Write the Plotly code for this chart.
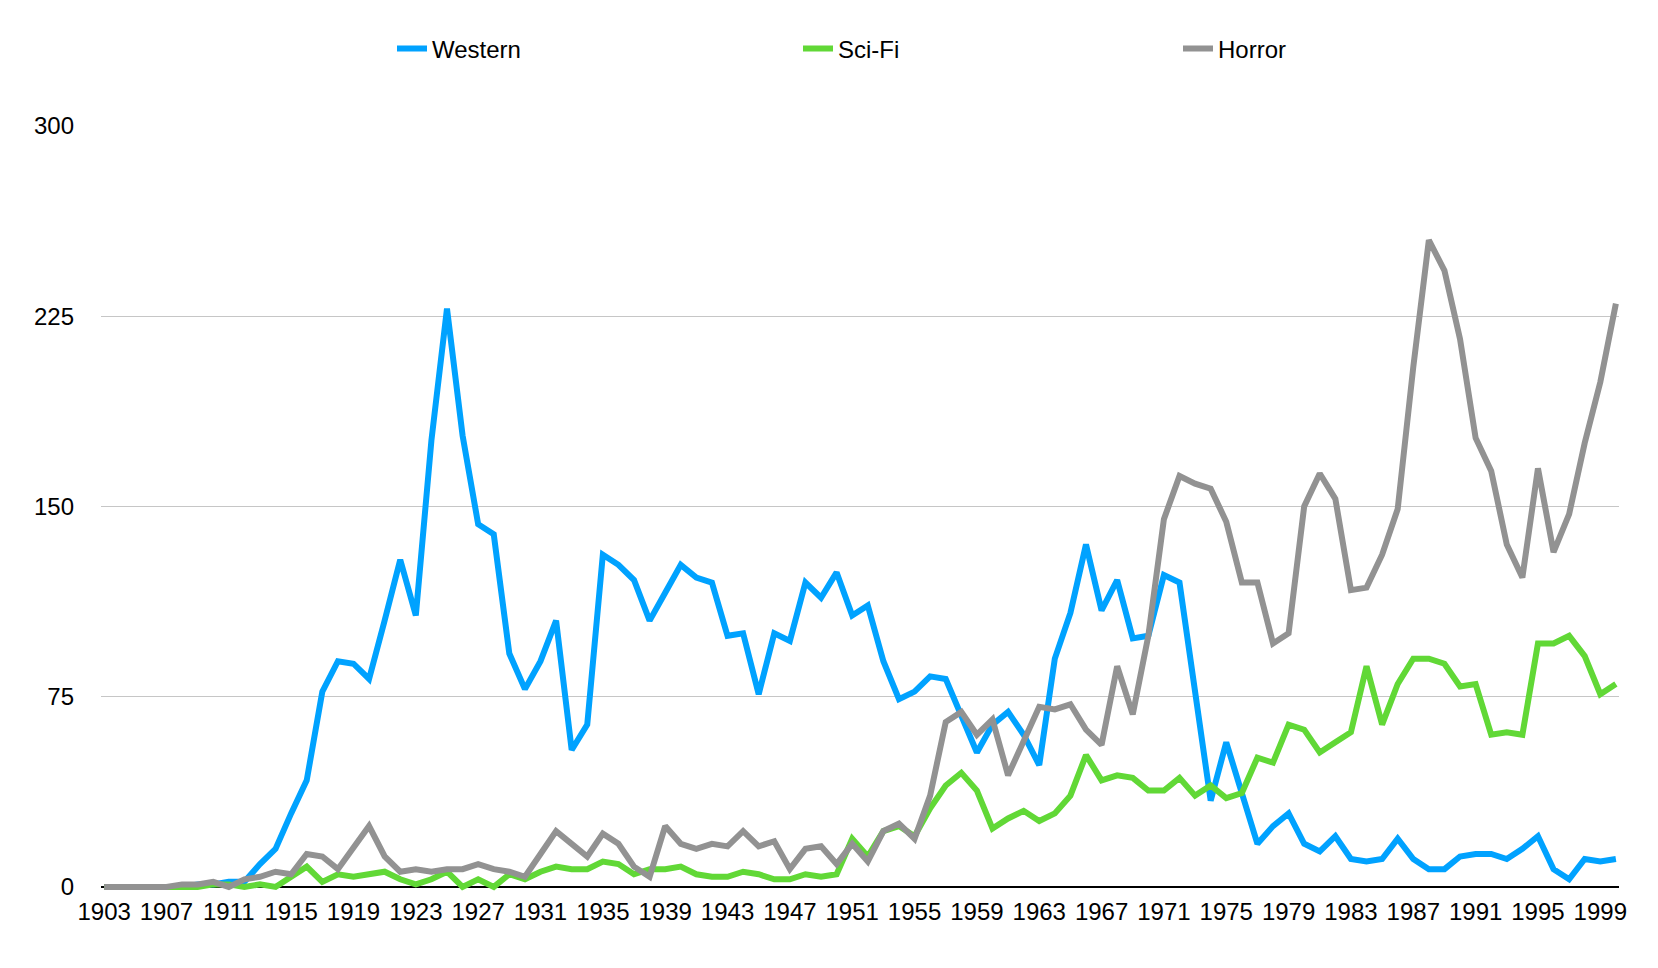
import plotly.graph_objects as go

years = list(range(1903, 2001))

western = [0, 0, 0, 0, 0, 0, 1, 1, 2, 2,
           9, 15, 29, 42, 77, 89, 88, 82, 105, 129,
           107, 176, 228, 178, 143, 139, 92, 78, 89, 105,
           54, 64, 131, 127, 121, 105, 116, 127, 122, 120,
           99, 100, 76, 100, 97, 120, 114, 124, 107, 111,
           89, 74, 77, 83, 82, 67, 53, 64, 69, 60,
           48, 90, 108, 135, 109, 121, 98, 99, 123, 120,
           77, 34, 57, 37, 17, 24, 29, 17, 14, 20,
           11, 10, 11, 19, 11, 7, 7, 12, 13, 13,
           11, 15, 20, 7, 3, 11, 10, 11]

scifi = [0, 0, 0, 0, 0, 0, 0, 1, 1, 0,
         1, 0, 4, 8, 2, 5, 4, 5, 6, 3,
         1, 3, 6, 0, 3, 0, 5, 3, 6, 8,
         7, 7, 10, 9, 5, 7, 7, 8, 5, 4,
         4, 6, 5, 3, 3, 5, 4, 5, 19, 12,
         22, 24, 20, 31, 40, 45, 38, 23, 27, 30,
         26, 29, 36, 52, 42, 44, 43, 38, 38, 43,
         36, 40, 35, 37, 51, 49, 64, 62, 53, 57,
         61, 87, 64, 80, 90, 90, 88, 79, 80, 60,
         61, 60, 96, 96, 99, 91, 76, 80]

horror = [0, 0, 0, 0, 0, 1, 1, 2, 0, 3,
          4, 6, 5, 13, 12, 7, 16, 24, 12, 6,
          7, 6, 7, 7, 9, 7, 6, 4, 13, 22,
          17, 12, 21, 17, 8, 4, 24, 17, 15, 17,
          16, 22, 16, 18, 7, 15, 16, 9, 17, 10,
          22, 25, 19, 36, 65, 69, 60, 66, 44, 57,
          71, 70, 72, 62, 56, 87, 68, 99, 145, 162,
          159, 157, 144, 120, 120, 96, 100, 150, 163, 153,
          117, 118, 131, 149, 205, 255, 243, 216, 177, 164,
          135, 122, 165, 132, 147, 175, 199, 230]

tick_years = list(range(1903, 2000, 4))
y_ticks = [0, 75, 150, 225, 300]

names = ["Western", "Sci-Fi", "Horror"]
colors = ["#00A2FF", "#61D836", "#929292"]
values = [western, scifi, horror]
legend_ids = ["legend", "legend2", "legend3"]

W, H = 1642, 952
legend_x = [384 / W, 790 / W, 1170 / W]

FONT = "Liberation Sans, Arial, Helvetica, sans-serif"

fig = go.Figure()
for name, vals, col, lid in zip(names, values, colors, legend_ids):
    fig.add_trace(go.Scatter(
        x=years, y=vals, name=name, mode="lines",
        line=dict(color=col, width=6),
        legend=lid,
    ))

legend_common = dict(
    orientation="h", xref="container", yref="container",
    y=1 - 41 / H, yanchor="middle", xanchor="left",
    font=dict(family=FONT, size=24, color="#000000"),
    bgcolor="rgba(0,0,0,0)", itemwidth=30,
)

fig.update_layout(
    width=W, height=H,
    margin=dict(l=93, r=31, t=118, b=68),
    paper_bgcolor="white", plot_bgcolor="white",
    showlegend=True,
    legend=dict(x=legend_x[0], **legend_common),
    legend2=dict(x=legend_x[1], **legend_common),
    legend3=dict(x=legend_x[2], **legend_common),
    xaxis=dict(
        range=[1902.8, 2000.2],
        tickmode="array", tickvals=tick_years,
        ticktext=[str(t) for t in tick_years],
        showgrid=False, zeroline=False, showline=False,
        ticks="", ticklabelstandoff=3,
        tickfont=dict(family=FONT, size=24, color="#000000"),
    ),
    yaxis=dict(
        range=[-2, 300],
        tickmode="array", tickvals=y_ticks,
        showgrid=True, gridcolor="#c6c6c6", gridwidth=1,
        zeroline=True, zerolinecolor="#000000", zerolinewidth=2,
        showline=False, ticks="", ticklabelstandoff=26,
        tickfont=dict(family=FONT, size=24, color="#000000"),
    ),
)

fig.write_html("out.html")
